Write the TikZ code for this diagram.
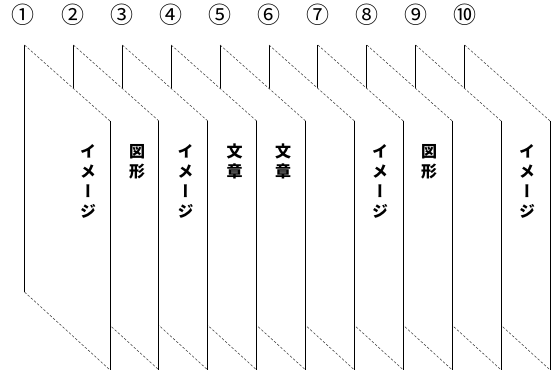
\documentclass[tikz,border=0pt]{standalone}
\usepackage{fontspec}
\newfontfamily\jpv[RawFeature={+vert}]{Noto Sans CJK JP}
\newfontfamily\jpn{Noto Sans CJK JP}
\begin{document}
\begin{tikzpicture}[x=1pt,y=-1pt,
  solidedge/.style={draw=black,line width=0.9pt},
  dashedge/.style={draw=black!75,line width=0.55pt,dash pattern=on 2.5pt off 1.8pt},
  panelfill/.style={fill=white},
  vlabel/.style={anchor=north,inner sep=0pt,align=center,font=\jpv\bfseries\fontsize{16}{20}\selectfont},
  numlabel/.style={inner sep=0pt,font=\jpn\fontsize{23}{23}\selectfont}]
\useasboundingbox (0,0) rectangle (552,374);
\foreach \i in {10,...,1}{
  \pgfmathsetmacro{\L}{24.5+48.9*(\i-1)}
  \pgfmathsetmacro{\R}{\L+85.5}
  \coordinate (tl\i) at (\L,45);
  \coordinate (tr\i) at (\R,121);
  \coordinate (bl\i) at (\L,292);
  \coordinate (br\i) at (\R,370);
  \fill[panelfill] (tl\i) -- (tr\i) -- (br\i) -- (bl\i) -- cycle;
  \draw[solidedge] (tl\i) -- (bl\i);
  \draw[solidedge] (tr\i) -- (br\i);
  \draw[dashedge] (tl\i) -- (tr\i);
  \draw[dashedge] (bl\i) -- (br\i);
}
\node[vlabel] (t1) at (88,144) {イ\\メ\\ー\\ジ};
\node[vlabel] (t2) at (137,144) {図\\形};
\node[vlabel] (t3) at (185.5,144) {イ\\メ\\ー\\ジ};
\node[vlabel] (t4) at (234.5,144) {文\\章};
\node[vlabel] (t5) at (283,144) {文\\章};
\node[vlabel] (t8) at (380,144) {イ\\メ\\ー\\ジ};
\node[vlabel] (t9) at (429,144) {図\\形};
\node[vlabel] (t10) at (527,144) {イ\\メ\\ー\\ジ};
\foreach \i/\s in {1/①,2/②,3/③,4/④,5/⑤,6/⑥,7/⑦,8/⑧,9/⑨,10/⑩}{
  \pgfmathsetmacro{\X}{23.5+49*(\i-1)}
  \node[numlabel] (n\i) at (\X,15) {\s};
}
\end{tikzpicture}
\end{document}
